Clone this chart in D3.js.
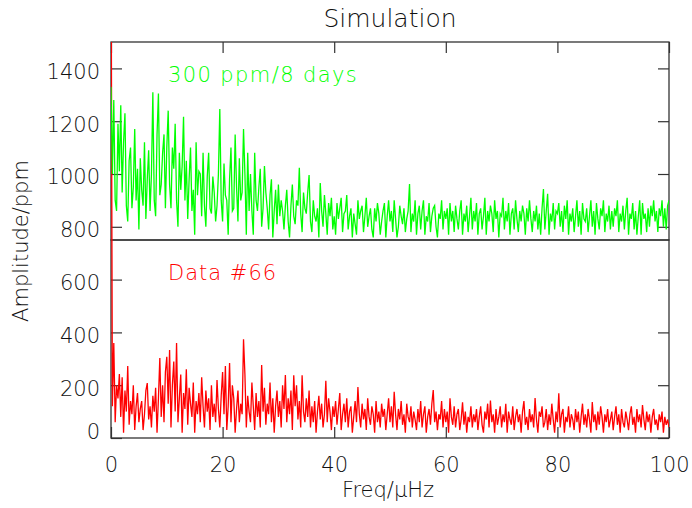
<!DOCTYPE html>
<html>
<head>
<meta charset="utf-8">
<script src="https://cdn.jsdelivr.net/npm/d3@7"></script>
<style>
  body { margin: 0; background: #fff; }
  svg text { font-family: "DejaVu Sans", sans-serif; font-weight: 200; fill: #111; }
</style>
</head>
<body>
<div class="spectrum"></div>
<script>
// frequency grid, 0 .. 100 microHz in steps of 0.25
var freqStep = 0.25;

// simulated spectrum (ppm), one row = 5 microHz
var simAmp = [
  1330, 1000, 1280, 900, 860, 1190, 1010, 1260, 930, 1120, 1230, 880, 820, 1050, 1100, 870, 950, 1170, 900, 1020,
  790, 1060, 940, 880, 1120, 830, 980, 1090, 860, 1000, 1310, 900, 840, 1150, 1305, 920, 960, 1080, 1150, 870,
  1100, 1240, 960, 870, 1100, 1020, 1190, 900, 800, 1080, 940, 1030, 1217, 900, 1050, 830, 980, 1100, 860, 940,
  770, 1120, 920, 1010, 1000, 840, 1080, 880, 800, 990, 1080, 870, 850, 990, 930, 820, 880, 1000, 1246, 900,
  820, 1040, 920, 900, 770, 980, 1100, 860, 870, 1150, 950, 820, 1060, 900, 930, 1170, 1000, 770, 1080, 860,
  1000, 860, 770, 1080, 900, 860, 950, 1020, 800, 870, 1030, 930, 870, 790, 920, 980, 760, 860, 940, 810,
  960, 840, 900, 860, 790, 880, 940, 820, 760, 880, 960, 840, 810, 900, 880, 1024, 850, 780, 930, 870,
  850, 930, 996, 820, 780, 900, 840, 820, 870, 760, 966, 860, 800, 920, 850, 770, 890, 840, 910, 790,
  840, 770, 890, 830, 870, 910, 780, 850, 860, 920, 790, 840, 870, 760, 850, 810, 770, 900, 830, 860,
  880, 780, 840, 910, 800, 840, 870, 790, 760, 870, 820, 890, 850, 770, 820, 860, 890, 760, 840, 900,
  820, 860, 780, 900, 830, 760, 800, 880, 840, 810, 870, 780, 830, 860, 962, 780, 850, 820, 900, 770,
  850, 880, 790, 860, 900, 770, 840, 820, 890, 780, 840, 870, 880, 800, 760, 850, 830, 900, 790, 860,
  830, 870, 770, 890, 820, 860, 780, 880, 830, 790, 860, 900, 770, 850, 820, 880, 780, 840, 910, 790,
  860, 820, 890, 770, 850, 870, 790, 840, 910, 770, 860, 820, 880, 850, 780, 900, 830, 860, 760, 850,
  840, 910, 790, 860, 820, 890, 770, 850, 870, 790, 900, 830, 780, 860, 820, 880, 850, 770, 870, 820,
  900, 830, 780, 860, 820, 880, 790, 850, 770, 870, 943, 790, 860, 925, 770, 850, 820, 890, 790, 860,
  850, 890, 800, 860, 780, 880, 830, 900, 770, 850, 820, 870, 780, 840, 900, 800, 860, 770, 890, 830,
  820, 870, 780, 840, 900, 800, 860, 770, 890, 830, 790, 870, 840, 900, 780, 850, 820, 880, 790, 860,
  800, 870, 840, 900, 780, 850, 820, 880, 790, 860, 910, 770, 850, 830, 890, 790, 860, 770, 840, 900,
  770, 890, 830, 850, 780, 870, 800, 880, 840, 900, 820, 860, 780, 870, 840, 900, 800, 870, 790, 880,
  900
];

// data set #66 spectrum (ppm)
var dataAmp = [
  2000, 120, 360, 60, 200, 150, 242, 80, 230, 20, 180, 100, 273, 50, 140, 90, 200, 30, 120, 170,
  60, 110, 140, 30, 90, 180, 208, 70, 120, 40, 160, 100, 190, 20, 150, 303, 80, 200, 60, 250,
  308, 130, 333, 40, 200, 290, 100, 360, 60, 150, 240, 20, 170, 110, 260, 50, 190, 130, 80, 210,
  20, 140, 90, 170, 60, 230, 120, 40, 180, 100, 150, 30, 200, 80, 130, 60, 220, 110, 40, 160,
  250, 90, 273, 30, 120, 284, 60, 200, 150, 20, 110, 180, 60, 130, 90, 374, 240, 40, 160, 100,
  60, 210, 120, 30, 170, 80, 140, 40, 276, 100, 190, 50, 130, 90, 210, 60, 150, 20, 120, 180,
  80, 140, 40, 200, 110, 239, 60, 150, 90, 180, 30, 238, 120, 200, 70, 140, 40, 238, 100, 60,
  150, 80, 180, 40, 120, 60, 140, 20, 100, 160, 70, 130, 40, 90, 217, 60, 150, 100, 30, 120,
  80, 140, 50, 110, 170, 30, 90, 130, 60, 150, 40, 100, 120, 20, 80, 140, 60, 193, 90, 40,
  130, 70, 110, 30, 150, 80, 50, 120, 90, 20, 140, 60, 100, 40, 130, 80, 110, 30, 90, 150,
  60, 120, 40, 175, 90, 30, 110, 70, 140, 50, 90, 20, 130, 80, 60, 120, 40, 100, 70, 30,
  110, 60, 140, 40, 90, 120, 20, 80, 110, 50, 130, 182, 60, 100, 30, 90, 70, 140, 40, 110,
  60, 100, 20, 150, 80, 50, 120, 40, 90, 110, 30, 70, 135, 50, 100, 20, 80, 60, 120, 40,
  90, 60, 110, 30, 80, 120, 50, 20, 100, 70, 130, 40, 142, 60, 90, 20, 110, 50, 80, 120,
  40, 90, 60, 130, 20, 100, 70, 50, 120, 30, 80, 110, 60, 90, 20, 100, 140, 50, 80, 30,
  110, 60, 90, 40, 151, 70, 20, 100, 80, 120, 40, 60, 110, 30, 90, 50, 130, 70, 20, 100,
  60, 169, 40, 90, 110, 20, 80, 60, 120, 40, 90, 70, 30, 110, 60, 100, 20, 80, 130, 50,
  90, 40, 110, 70, 20, 136, 60, 90, 30, 100, 50, 120, 80, 20, 90, 60, 110, 40, 70, 100,
  30, 80, 120, 50, 90, 20, 110, 60, 40, 100, 70, 30, 90, 120, 50, 80, 20, 110, 60, 90,
  40, 125, 70, 30, 100, 60, 90, 20, 80, 110, 50, 70, 30, 90, 60, 100, 20, 80, 50, 70,
  40
];

var xTicks = [0, 20, 40, 60, 80, 100];
var topTicks = [800, 1000, 1200, 1400];
var bottomTicks = [0, 200, 400, 600];

var width = 692, height = 508;
var left = 111, right = 669;
var topY0 = 42, midY = 240, botY1 = 438;

var svg = d3.select(".spectrum")
    .append("svg")
    .attr("width", width)
    .attr("height", height);

var x = d3.scaleLinear().domain([0, 100]).range([left, right]);
var yTop = d3.scaleLinear().domain([750, 1500]).range([midY, topY0]);
var yBot = d3.scaleLinear().domain([0, 750]).range([botY1, midY]);

var minorX = d3.range(0, 100.01, 5);
var minorTop = d3.range(750, 1500.01, 50);
var minorBot = d3.range(0, 750.01, 50);
var fmt = d3.format("d");

// clip paths: red may run over both panels, green only the upper one
var defs = svg.append("defs");
defs.append("clipPath").attr("id", "clipAll")
    .append("rect").attr("x", left).attr("y", topY0).attr("width", right - left).attr("height", botY1 - topY0);
defs.append("clipPath").attr("id", "clipTop")
    .append("rect").attr("x", left).attr("y", topY0).attr("width", right - left).attr("height", midY - topY0);

function drawYAxes(y, majors, minors) {
    var gl = svg.append("g").attr("transform", "translate(" + left + ",0)");
    gl.call(d3.axisLeft(y).tickValues(minors).tickSize(-6).tickFormat(""));
    gl.call(d3.axisLeft(y).tickValues(majors).tickSize(-11).tickPadding(11).tickFormat(fmt));
    var gr = svg.append("g").attr("transform", "translate(" + right + ",0)");
    gr.call(d3.axisRight(y).tickValues(minors).tickSize(-6).tickFormat(""));
    gr.call(d3.axisRight(y).tickValues(majors).tickSize(-11).tickFormat(""));
    [gl, gr].forEach(function (g) {
        g.selectAll(".domain").remove();
        g.selectAll("line").attr("stroke", "#333").attr("stroke-width", 1.2);
        g.selectAll("text")
            .style("font-size", "21px")
            .attr("fill", "#111")
            .attr("dy", function (d) { return d === 0 ? "0em" : "0.47em"; });
    });
}

drawYAxes(yTop, topTicks, minorTop);
drawYAxes(yBot, bottomTicks, minorBot);

// x ticks on the top of the upper panel and the bottom of the lower one
var gxt = svg.append("g").attr("transform", "translate(0," + topY0 + ")");
gxt.call(d3.axisTop(x).tickValues(minorX).tickSize(-6).tickFormat(""));
gxt.call(d3.axisTop(x).tickValues(xTicks).tickSize(-11).tickFormat(""));
var gxb = svg.append("g").attr("transform", "translate(0," + botY1 + ")");
gxb.call(d3.axisBottom(x).tickValues(minorX).tickSize(-6).tickFormat(""));
gxb.call(d3.axisBottom(x).tickValues(xTicks).tickSize(-11).tickPadding(19).tickFormat(fmt));
[gxt, gxb].forEach(function (g) {
    g.selectAll(".domain").remove();
    g.selectAll("line").attr("stroke", "#333").attr("stroke-width", 1.2);
    g.selectAll("text").style("font-size", "21px").attr("fill", "#111");
});

// frames
[[topY0, midY], [midY, botY1]].forEach(function (p) {
    svg.append("rect")
        .attr("x", left).attr("y", p[0])
        .attr("width", right - left).attr("height", p[1] - p[0])
        .attr("fill", "none").attr("stroke", "#333").attr("stroke-width", 1.3);
});

// spectra
var redLine = d3.line()
    .x(function (d, i) { return x(i * freqStep); })
    .y(function (d) { return yBot(d); });
var greenLine = d3.line()
    .x(function (d, i) { return x(i * freqStep); })
    .y(function (d) { return yTop(d); });

svg.append("path")
    .datum(dataAmp)
    .attr("clip-path", "url(#clipAll)")
    .attr("d", redLine)
    .attr("fill", "none")
    .attr("stroke", "#ff0000")
    .attr("stroke-width", 1.3);

svg.append("path")
    .datum(simAmp)
    .attr("clip-path", "url(#clipTop)")
    .attr("d", greenLine)
    .attr("fill", "none")
    .attr("stroke", "#00ff00")
    .attr("stroke-width", 1.3);

// texts
svg.append("text")
    .attr("x", 390).attr("y", 27)
    .attr("text-anchor", "middle")
    .style("font-size", "25px")
    .text("Simulation");

svg.append("text")
    .attr("x", 168).attr("y", 82)
    .style("font-size", "21px")
    .style("letter-spacing", "1.4px")
    .style("fill", "#00ff00")
    .text("300 ppm/8 days");

svg.append("text")
    .attr("x", 168).attr("y", 280)
    .style("font-size", "21px")
    .style("letter-spacing", "1px")
    .style("fill", "#ff0000")
    .text("Data #66");

svg.append("text")
    .attr("x", 388).attr("y", 497)
    .attr("text-anchor", "middle")
    .style("font-size", "21px")
    .text("Freq/μHz");

svg.append("text")
    .attr("transform", "translate(28,241) rotate(-90)")
    .attr("text-anchor", "middle")
    .style("font-size", "21px")
    .text("Amplitude/ppm");
</script>
</body>
</html>
